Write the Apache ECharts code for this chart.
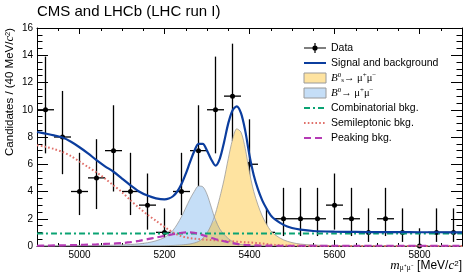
<!DOCTYPE html>
<html><head><meta charset="utf-8">
<script src="https://cdn.jsdelivr.net/npm/echarts@6/dist/echarts.min.js"></script>
<style>html,body{margin:0;padding:0;background:#fff}#c{width:467px;height:277px}</style>
</head><body><div id="c"></div>
<script>
// ---------- data ----------
const BIN_WIDTH = 40;
const binCenters = [4920,4960,5000,5040,5080,5120,5160,5200,5240,5280,5320,5360,5400,5440,5480,5520,5560,5600,5640,5680,5720,5760,5800,5840,5880];
const counts     = [10,8,4,5,7,4,3,1,4,7,10,11,6,1,2,2,2,3,2,1,2,1,0,1,1];
const errLowEnd  = [6.8,5.27,2.27,2.71,4.0,2.27,1.2,0.3,2.27,4.0,6.8,7.7,3.6,0.3,0.73,0.73,0.73,1.2,0.73,0.3,0.73,0.3,0,0.3,0.3];
const errHighEnd = [13.9,11.38,6.84,7.84,10.33,6.84,5.32,2.76,6.84,10.33,13.9,14.85,9.3,2.76,4.27,4.27,4.27,5.32,4.27,2.76,4.27,2.76,1.3,2.76,2.76];

const massGrid = [4900,4920,4940,4960,4980,5000,5020,5040,5060,5080,5100,5120,5140,5160,5180,5200,
  5210,5220,5230,5240,5250,5260,5270,5280,5290,5300,5310,5320,5330,5340,5350,5360,5370,5380,5390,5400,
  5410,5420,5430,5440,5450,5460,5480,5500,5520,5550,5600,5650,5700,5750,5800,5850,5900];
const totalFit = [8.37,8.25,8.12,7.96,7.65,7.25,6.80,6.30,5.85,5.45,4.95,4.45,4.00,3.70,3.50,3.42,
  3.48,3.65,4.00,4.55,5.30,6.15,6.95,7.50,7.50,7.00,6.35,5.90,6.40,7.60,9.00,9.95,10.25,9.75,8.45,6.65,
  5.20,4.15,3.35,2.75,2.25,1.95,1.55,1.32,1.20,1.10,1.05,1.03,1.02,1.02,1.01,1.01,1.00];
const bsSignal = [0,0,0,0,0,0,0,0,0,0,0,0,0.01,0.01,0.01,0.02,
  0.03,0.04,0.06,0.08,0.11,0.15,0.22,0.33,0.55,0.95,1.55,2.40,3.55,4.85,6.40,7.80,8.60,8.35,7.15,5.40,
  4.00,3.00,2.20,1.60,1.12,0.82,0.45,0.25,0.14,0.07,0.03,0.01,0.01,0,0,0,0];
const b0Signal = [0.01,0.01,0.01,0.02,0.02,0.03,0.03,0.04,0.05,0.06,0.08,0.11,0.16,0.24,0.38,0.62,
  0.85,1.15,1.60,2.15,2.80,3.45,4.00,4.40,4.35,3.80,2.85,1.90,1.25,0.85,0.55,0.32,0.18,0.11,0.07,0.05,
  0.03,0.02,0.02,0.01,0.01,0.01,0,0,0,0,0,0,0,0,0,0,0];
const combBkg = [0.92,0.92,0.92,0.92,0.92,0.92,0.92,0.92,0.92,0.92,0.92,0.92,0.92,0.92,0.92,0.92,
  0.92,0.92,0.92,0.92,0.92,0.92,0.92,0.92,0.92,0.92,0.92,0.92,0.92,0.92,0.92,0.92,0.92,0.92,0.92,0.92,
  0.92,0.92,0.92,0.92,0.92,0.92,0.92,0.92,0.92,0.92,0.92,0.92,0.92,0.92,0.92,0.92,0.92];
const semilepBkg = [7.40,7.28,7.12,6.90,6.60,6.20,5.80,5.40,4.95,4.45,3.95,3.35,2.80,2.30,1.85,1.40,
  1.20,1.00,0.84,0.72,0.64,0.58,0.54,0.51,0.48,0.46,0.44,0.42,0.40,0.38,0.36,0.34,0.32,0.30,0.28,0.26,
  0.24,0.21,0.18,0.15,0.11,0.08,0.04,0.02,0.01,0,0,0,0,0,0,0,0];
const peakingBkg = [0.02,0.03,0.04,0.05,0.06,0.08,0.10,0.12,0.15,0.18,0.21,0.28,0.38,0.50,0.62,0.74,
  0.80,0.86,0.92,0.97,1.00,1.00,0.97,0.90,0.80,0.70,0.60,0.50,0.42,0.35,0.28,0.21,0.15,0.11,0.08,0.06,
  0.05,0.04,0.03,0.03,0.03,0.02,0.02,0.02,0.02,0.02,0.02,0.02,0.02,0.02,0.02,0.02,0.02];

const xMajorTicks = [5000,5200,5400,5600,5800];

// ---------- styles ----------
const SANS = 'Liberation Sans';
const SERIF = 'Liberation Serif';
const BS_FILL = '#fee3a0';
const B0_FILL = '#c5def7';
const OVERLAP_FILL = '#ddcf97';
const OUTLINE = '#9a9a9a';

const pairs = arr => massGrid.map((m, i) => [m, arr[i]]);
const overlap = massGrid.map((m, i) => [m, Math.min(bsSignal[i], b0Signal[i])]);

const NAME_DATA = 'Data', NAME_FIT = 'Signal and background', NAME_BS = 'Bs', NAME_B0 = 'B0',
      NAME_COMB = 'Combinatorial bkg.', NAME_SEMI = 'Semileptonic bkg.', NAME_PEAK = 'Peaking bkg.';

const legendLabels = {};
legendLabels[NAME_BS] = '{i|B}{sup|0}{sub|s}{m|→ μ}{sup|+}{m|μ}{sup|−}';
legendLabels[NAME_B0] = '{i|B}{sup|0}{m|→ μ}{sup|+}{m|μ}{sup|−}';

const chart = echarts.init(document.getElementById('c'), null, {renderer: 'canvas'});

function xAxisCfg(pos, major) {
  const base = {
    type: 'value', position: pos, min: 4900, max: 5900,
    axisLine: {show: !major, onZero: false, lineStyle: {color: '#000', width: 1}},
    splitLine: {show: false}
  };
  if (major) {
    base.axisTick = {inside: true, length: 6, customValues: xMajorTicks, lineStyle: {color: '#000', width: 1}};
    base.axisLabel = pos === 'bottom'
      ? {show: true, customValues: xMajorTicks, formatter: v => String(v), fontFamily: SANS, fontSize: 10, color: '#000', margin: 4}
      : {show: false};
  } else {
    base.interval = 50;
    base.axisTick = {inside: true, length: 3, lineStyle: {color: '#000', width: 1}};
    base.axisLabel = {show: false};
  }
  return base;
}
function yAxisCfg(pos) {
  return {
    type: 'value', position: pos, min: 0, max: 16, interval: 2,
    axisLine: {show: true, onZero: false, lineStyle: {color: '#000', width: 1}},
    axisTick: {inside: true, length: 11, lineStyle: {color: '#000', width: 1}},
    minorTick: {show: true, splitNumber: 4, length: 5.5, lineStyle: {color: '#000', width: 1}},
    axisLabel: pos === 'left' ? {fontFamily: SANS, fontSize: 10, color: '#000', margin: 4} : {show: false},
    splitLine: {show: false}, minorSplitLine: {show: false}
  };
}

const hidden = {color: 'rgba(0,0,0,0)', borderColor: 'rgba(0,0,0,0)', borderWidth: 0};

const option = {
  animation: false,
  backgroundColor: '#fff',
  title: {
    text: 'CMS and LHCb (LHC run I)', left: 37, top: 4, padding: 0,
    textStyle: {fontFamily: SANS, fontSize: 15, fontWeight: 'normal', color: '#000'}
  },
  grid: {left: 37, right: 5, top: 28, bottom: 31, containLabel: false},
  xAxis: [xAxisCfg('bottom', false), xAxisCfg('bottom', true), xAxisCfg('top', false), xAxisCfg('top', true)],
  yAxis: [yAxisCfg('left'), yAxisCfg('right')],
  legend: {
    orient: 'vertical', left: 298, top: 37, itemWidth: 22, itemHeight: 10, itemGap: 3,
    selectedMode: false,
    formatter: n => legendLabels[n] || n,
    textStyle: {
      fontFamily: SANS, fontSize: 10.5, color: '#000', lineHeight: 12,
      rich: {
        i: {fontFamily: SERIF, fontStyle: 'italic', fontSize: 11, color: '#000'},
        m: {fontFamily: SERIF, fontSize: 10.5, color: '#000'},
        sup: {fontFamily: SERIF, fontSize: 7, color: '#000', verticalAlign: 'top'},
        sub: {fontFamily: SERIF, fontSize: 7, color: '#000', verticalAlign: 'bottom'}
      }
    },
    data: [
      {name: NAME_DATA, icon: 'path://M0,4.4H22V5.6H0Z M10.4,0H11.6V10H10.4Z M13.6,5A2.6,2.6 0 1 1 8.4,5A2.6,2.6 0 1 1 13.6,5Z',
        itemStyle: {color: '#000', borderWidth: 0}},
      {name: NAME_FIT, itemStyle: hidden},
      {name: NAME_BS, icon: 'rect', itemStyle: {color: BS_FILL, borderColor: OUTLINE, borderWidth: 1}},
      {name: NAME_B0, icon: 'rect', itemStyle: {color: B0_FILL, borderColor: OUTLINE, borderWidth: 1}},
      {name: NAME_COMB, itemStyle: hidden},
      {name: NAME_SEMI, itemStyle: hidden},
      {name: NAME_PEAK, itemStyle: hidden}
    ]
  },
  graphic: [
    {type: 'text', x: 10, y: 28, rotation: Math.PI / 2,
      style: {text: '{n|Candidates / (40 MeV/}{i|c}{sup|2}{n|)}', align: 'right', textAlign: 'right',
        verticalAlign: 'middle', textVerticalAlign: 'middle',
        rich: {
          n: {fontFamily: SANS, fontSize: 11.5, fill: '#000', color: '#000'},
          i: {fontFamily: SERIF, fontStyle: 'italic', fontSize: 12.5, fill: '#000', color: '#000'},
          sup: {fontFamily: SANS, fontSize: 7.5, fill: '#000', color: '#000', verticalAlign: 'top'}
        }}},
    {type: 'text', x: 462, y: 266,
      style: {text: '{i|m}{sub|μ⁺μ⁻} {n|[MeV/}{i|c}{sup|2}{n|]}', align: 'right', textAlign: 'right',
        verticalAlign: 'middle', textVerticalAlign: 'middle',
        rich: {
          n: {fontFamily: SANS, fontSize: 12, fill: '#000', color: '#000'},
          i: {fontFamily: SERIF, fontStyle: 'italic', fontSize: 13, fill: '#000', color: '#000'},
          sup: {fontFamily: SANS, fontSize: 8, fill: '#000', color: '#000', verticalAlign: 'top'},
          sub: {fontFamily: SERIF, fontSize: 7.5, fill: '#000', color: '#000', verticalAlign: 'bottom'}
        }}}
  ],
  series: [
    {name: NAME_BS, type: 'line', data: pairs(bsSignal), smooth: 0.3, symbol: 'none',
      lineStyle: {width: 0, color: BS_FILL}, itemStyle: {color: BS_FILL}, areaStyle: {color: BS_FILL, opacity: 1}},
    {name: NAME_B0, type: 'line', data: pairs(b0Signal), smooth: 0.3, symbol: 'none',
      lineStyle: {width: 0, color: B0_FILL}, itemStyle: {color: B0_FILL}, areaStyle: {color: B0_FILL, opacity: 1}},
    {name: 'overlap', type: 'line', data: overlap, smooth: 0.3, symbol: 'none',
      lineStyle: {width: 0, color: OVERLAP_FILL}, areaStyle: {color: OVERLAP_FILL, opacity: 1}},
    {name: 'bsOutline', type: 'line', data: pairs(bsSignal), smooth: 0.3, symbol: 'none',
      lineStyle: {width: 0.8, color: OUTLINE}},
    {name: 'b0Outline', type: 'line', data: pairs(b0Signal), smooth: 0.3, symbol: 'none',
      lineStyle: {width: 0.8, color: OUTLINE}},
    {name: NAME_COMB, type: 'line', data: pairs(combBkg), smooth: 0.3, symbol: 'none',
      lineStyle: {width: 2, color: '#0aa373', type: [6, 3, 2, 3]}, itemStyle: {color: '#0aa373'}},
    {name: NAME_SEMI, type: 'line', data: pairs(semilepBkg), smooth: 0.3, symbol: 'none',
      lineStyle: {width: 2, color: '#e0706a', type: [1.6, 2.2]}, itemStyle: {color: '#e0706a'}},
    {name: NAME_PEAK, type: 'line', data: pairs(peakingBkg), smooth: 0.3, symbol: 'none',
      lineStyle: {width: 2.2, color: '#b53ab5', type: [7, 4]}, itemStyle: {color: '#b53ab5'}},
    {name: NAME_FIT, type: 'line', data: pairs(totalFit), smooth: 0.3, symbol: 'none',
      lineStyle: {width: 2.2, color: '#0b3d9e'}, itemStyle: {color: '#0b3d9e'}},
    {name: NAME_DATA, type: 'custom', itemStyle: {color: '#000'},
      data: binCenters.map((m, i) => [m, counts[i], errLowEnd[i], errHighEnd[i]]),
      renderItem: (params, api) => {
        const x = api.value(0), y = api.value(1), lo = api.value(2), hi = api.value(3);
        const c = api.coord([x, y]);
        const l = api.coord([x - BIN_WIDTH / 2, y]);
        const r = api.coord([x + BIN_WIDTH / 2, y]);
        const t = api.coord([x, hi]);
        const b = api.coord([x, lo]);
        return {type: 'group', children: [
          {type: 'line', shape: {x1: l[0], y1: l[1], x2: r[0], y2: r[1]}, style: {stroke: '#000', lineWidth: 1.3}},
          {type: 'line', shape: {x1: t[0], y1: t[1], x2: b[0], y2: b[1]}, style: {stroke: '#000', lineWidth: 1.3}},
          {type: 'circle', shape: {cx: c[0], cy: c[1], r: 2.5}, style: {fill: '#000'}}
        ]};
      }}
  ]
};
chart.setOption(option);
</script></body></html>
